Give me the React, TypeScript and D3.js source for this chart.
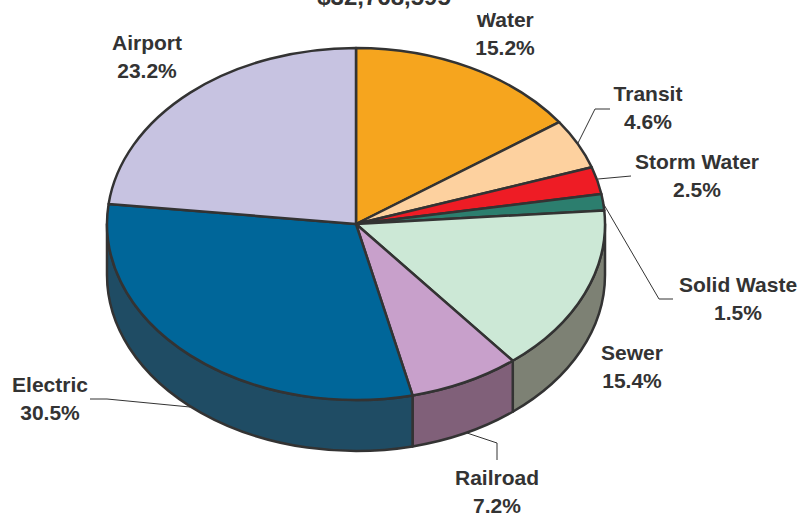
import React from "react";
import * as d3 from "d3";

const title = "$32,768,595";
const categories = ["Water", "Transit", "Storm Water", "Solid Waste", "Sewer", "Railroad", "Electric", "Airport"];
const percents = [15.2, 4.6, 2.5, 1.5, 15.4, 7.2, 30.5, 23.2];
const percentLabels = ["15.2%", "4.6%", "2.5%", "1.5%", "15.4%", "7.2%", "30.5%", "23.2%"];

const topColors = ["#F6A51E", "#FDD19F", "#EE1C25", "#2C7E6E", "#CCE8D6", "#C8A0CB", "#006699", "#C7C3E1"];
const sideColors = ["#9A6A1A", "#A08060", "#901418", "#1E5048", "#7D8174", "#806079", "#1F4C64", "#7E7C90"];

// label layout: [centerX, firstBaseline]
const labelPos: [number, number][] = [
  [505, 27], [648, 101], [697, 169], [738, 292], [632, 360], [497, 485], [50, 392], [147, 50],
];
const leaders: ([number, number][] | null)[] = [
  null,
  [[578, 143], [595, 109], [610, 109]],
  [[598, 179], [631, 176]],
  [[603, 203], [659, 299], [673, 299]],
  null,
  [[467, 433], [497, 443], [497, 460]],
  [[90, 399], [107, 399], [190, 407]],
  null,
];

const W = 799, H = 518;
const cx = 356, cy = 224, rx = 249, ry = 176, depth = 51;
const ink = "#333333";
const font = "'Liberation Sans', Arial, sans-serif";

function pt(a: number, dy = 0): [number, number] {
  return [cx + rx * Math.sin(a), cy - ry * Math.cos(a) + dy];
}

export default function App() {
  const arcs = d3.pie<number>().sort(null).value((d) => d)(percents);

  const topPath = (a0: number, a1: number) => {
    const p0 = pt(a0), p1 = pt(a1);
    const large = a1 - a0 > Math.PI ? 1 : 0;
    return `M${cx},${cy}L${p0[0]},${p0[1]}A${rx},${ry} 0 ${large} 1 ${p1[0]},${p1[1]}Z`;
  };
  const sidePath = (a0: number, a1: number) => {
    const s = Math.max(a0, Math.PI / 2), e = Math.min(a1, (3 * Math.PI) / 2);
    if (e <= s) return null;
    const p0 = pt(s), p1 = pt(e), q1 = pt(e, depth), q0 = pt(s, depth);
    return `M${p0[0]},${p0[1]}A${rx},${ry} 0 0 1 ${p1[0]},${p1[1]}L${q1[0]},${q1[1]}A${rx},${ry} 0 0 0 ${q0[0]},${q0[1]}Z`;
  };
  const line = d3.line();

  return (
    <svg width={W} height={H} style={{ position: "absolute", left: 0, top: 0, background: "#fff" }}>
      <rect width={W} height={H} fill="#fff" />
      {arcs.map((a, i) => {
        const d = sidePath(a.startAngle, a.endAngle);
        return d ? <path key={"s" + i} d={d} fill={sideColors[i]} stroke={ink} strokeWidth={2.5} strokeLinejoin="round" /> : null;
      })}
      {arcs.map((a, i) => (
        <path key={"t" + i} d={topPath(a.startAngle, a.endAngle)} fill={topColors[i]} stroke={ink} strokeWidth={2.5} strokeLinejoin="round" />
      ))}
      {leaders.map((l, i) => (l ? <path key={"l" + i} d={line(l) || ""} fill="none" stroke={ink} strokeWidth={1} /> : null))}
      {categories.map((c, i) => (
        <text key={"c" + i} x={labelPos[i][0]} y={labelPos[i][1]} textAnchor="middle" fontFamily={font} fontWeight="bold" fontSize={21} fill={ink}>
          <tspan x={labelPos[i][0]}>{c}</tspan>
          <tspan x={labelPos[i][0]} dy={28}>{percentLabels[i]}</tspan>
        </text>
      ))}
      <rect x={300} y={0} width={187} height={15} fill="#fff" />
      <text x={384} y={5} textAnchor="middle" fontFamily={font} fontWeight="bold" fontSize={24} fill={ink}>{title}</text>
    </svg>
  );
}
